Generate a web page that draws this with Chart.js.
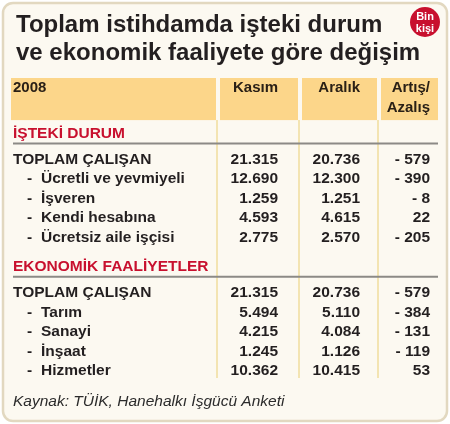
<!DOCTYPE html>
<html>
<head>
<meta charset="utf-8">
<script src="https://cdn.jsdelivr.net/npm/chart.js@4.4.1/dist/chart.umd.min.js"></script>
<style>
  html, body { margin: 0; padding: 0; background: #fff; }
  #wrap { width: 450px; height: 424px; }
</style>
</head>
<body>
<div id="wrap"><canvas id="tableChart"></canvas></div>
<script>
// Chart data
const titleLines = ['Toplam istihdamda işteki durum', 've ekonomik faaliyete göre değişim'];
const unitLines = ['Bin', 'kişi'];
const yearLabel = '2008';
const columnHeaders = [['Kasım'], ['Aralık'], ['Artış/', 'Azalış']];
const sectionTitles = ['İŞTEKİ DURUM', 'EKONOMİK FAALİYETLER'];

const durumLabels = ['TOPLAM ÇALIŞAN', '- Ücretli ve yevmiyeli', '- İşveren', '- Kendi hesabına', '- Ücretsiz aile işçisi'];
const durumKasim = [21315, 12690, 1259, 4593, 2775];
const durumAralik = [20736, 12300, 1251, 4615, 2570];
const durumFark = [-579, -390, -8, 22, -205];

const faaliyetLabels = ['TOPLAM ÇALIŞAN', '- Tarım', '- Sanayi', '- İnşaat', '- Hizmetler'];
const faaliyetKasim = [21315, 5494, 4215, 1245, 10362];
const faaliyetAralik = [20736, 5110, 4084, 1126, 10415];
const faaliyetFark = [-579, -384, -131, -119, 53];

const sourceNote = 'Kaynak: TÜİK, Hanehalkı İşgücü Anketi';

// Layout (table units: x in px of table width, y in row heights)
const colRight = [267, 349, 419];
const colSeparators = [206, 288, 367];
const labelX = 2, dashX = 16, subLabelX = 30;
const AFTER_SECTION = 1.33, SECTION_GAP = 1.5;

const RED = '#c8102e';
const INK = '#231f20';
const BODY_FONT = 'bold 15.5px "Liberation Sans", Arial, sans-serif';

function formatNum(v) {
  const s = String(Math.abs(v)).replace(/\B(?=(\d{3})+(?!\d))/g, '.');
  return v < 0 ? '- ' + s : s;
}

// build row positions
const sectionData = [
  { labels: durumLabels, kasim: durumKasim, aralik: durumAralik, fark: durumFark },
  { labels: faaliyetLabels, kasim: faaliyetKasim, aralik: faaliyetAralik, fark: faaliyetFark }
];
const sectionRows = [];
const dataRows = [];
let pos = 0;
sectionData.forEach((sec, si) => {
  if (si > 0) pos += SECTION_GAP - 1;
  sectionRows.push({ y: pos, text: sectionTitles[si] });
  pos += AFTER_SECTION;
  sec.labels.forEach((lab, i) => {
    dataRows.push({ y: pos, label: lab, vals: [sec.kasim[i], sec.aralik[i], sec.fark[i]] });
    pos += 1;
  });
});

const datasets = [
  {
    label: 'sections',
    data: sectionRows.map(r => ({ x: labelX, y: r.y })),
    texts: sectionRows.map(r => r.text),
    kind: 'section'
  },
  {
    label: 'labels',
    data: dataRows.map(r => ({ x: labelX, y: r.y })),
    texts: dataRows.map(r => r.label),
    kind: 'label'
  }
];
columnHeaders.forEach((h, ci) => {
  datasets.push({
    label: h.join(' '),
    data: dataRows.map(r => ({ x: colRight[ci], y: r.y })),
    texts: dataRows.map(r => formatNum(r.vals[ci])),
    kind: 'number'
  });
});
datasets.forEach(d => { d.pointRadius = 0; d.pointHoverRadius = 0; });

const tablePlugin = {
  id: 'tableCells',
  beforeDraw(chart) {
    const ctx = chart.ctx;
    const xs = chart.scales.x, ys = chart.scales.y;
    const area = chart.chartArea;
    ctx.save();

    // card background
    ctx.beginPath();
    ctx.roundRect(3, 3, 444, 418, 10);
    ctx.fillStyle = '#fcf9f1';
    ctx.fill();
    ctx.lineWidth = 2.5;
    ctx.strokeStyle = '#e2d8c0';
    ctx.stroke();

    // title
    ctx.fillStyle = INK;
    ctx.font = 'bold 24px "Liberation Sans", Arial, sans-serif';
    ctx.textAlign = 'left';
    ctx.textBaseline = 'alphabetic';
    ctx.fillText(titleLines[0], 16, 32);
    ctx.fillText(titleLines[1], 16, 60);

    // unit badge
    ctx.beginPath();
    ctx.arc(425, 22, 15, 0, Math.PI * 2);
    ctx.fillStyle = RED;
    ctx.fill();
    ctx.fillStyle = '#fff';
    ctx.font = 'bold 11px "Liberation Sans", Arial, sans-serif';
    ctx.textAlign = 'center';
    ctx.fillText(unitLines[0], 425, 20);
    ctx.fillText(unitLines[1], 425, 32);

    // header band
    const bandTop = area.top;
    const bandBottom = ys.getPixelForValue(-0.92);
    const edges = [0].concat(colSeparators, [xs.max]);
    ctx.fillStyle = '#fcd68a';
    for (let i = 0; i < edges.length - 1; i++) {
      const l = xs.getPixelForValue(edges[i]) + (i === 0 ? 0 : 3);
      const r = xs.getPixelForValue(edges[i + 1]) - (i === edges.length - 2 ? 0 : 1);
      ctx.fillRect(l, bandTop, r - l, bandBottom - bandTop);
    }

    // column separators
    ctx.strokeStyle = '#f1dc9c';
    ctx.lineWidth = 1.5;
    colSeparators.forEach(s => {
      const x = xs.getPixelForValue(s);
      ctx.beginPath();
      ctx.moveTo(x, bandBottom);
      ctx.lineTo(x, area.bottom);
      ctx.stroke();
    });

    // header text
    ctx.fillStyle = '#2a2016';
    ctx.font = 'bold 15px "Liberation Sans", Arial, sans-serif';
    ctx.textAlign = 'left';
    ctx.fillText(yearLabel, xs.getPixelForValue(labelX), ys.getPixelForValue(-2.36));
    ctx.textAlign = 'right';
    columnHeaders.forEach((lines, ci) => {
      lines.forEach((t, li) => {
        ctx.fillText(t, xs.getPixelForValue(colRight[ci]), ys.getPixelForValue(-2.36 + li * 1.03));
      });
    });

    // section rules
    ctx.strokeStyle = '#8c8a86';
    ctx.lineWidth = 2;
    sectionRows.forEach(r => {
      const y = ys.getPixelForValue(r.y + 0.28);
      ctx.beginPath();
      ctx.moveTo(xs.getPixelForValue(2), y);
      ctx.lineTo(xs.getPixelForValue(xs.max), y);
      ctx.stroke();
    });

    // source note
    ctx.fillStyle = '#2b2b2b';
    ctx.font = 'italic 15.5px "Liberation Sans", Arial, sans-serif';
    ctx.textAlign = 'left';
    const lastY = dataRows[dataRows.length - 1].y;
    ctx.fillText(sourceNote, xs.getPixelForValue(labelX), ys.getPixelForValue(lastY + 1.59));

    ctx.restore();
  },
  afterDatasetsDraw(chart) {
    const ctx = chart.ctx;
    const xs = chart.scales.x;
    ctx.save();
    ctx.textBaseline = 'alphabetic';
    chart.data.datasets.forEach((ds, di) => {
      const meta = chart.getDatasetMeta(di);
      meta.data.forEach((el, i) => {
        const text = ds.texts[i];
        ctx.font = BODY_FONT;
        if (ds.kind === 'section') {
          ctx.fillStyle = RED;
          ctx.textAlign = 'left';
          ctx.fillText(text, el.x, el.y);
        } else if (ds.kind === 'label') {
          ctx.fillStyle = INK;
          ctx.textAlign = 'left';
          if (text.startsWith('- ')) {
            ctx.fillText('-', xs.getPixelForValue(dashX), el.y);
            ctx.fillText(text.slice(2), xs.getPixelForValue(subLabelX), el.y);
          } else {
            ctx.fillText(text, el.x, el.y);
          }
        } else {
          ctx.fillStyle = INK;
          ctx.textAlign = 'right';
          ctx.fillText(text, el.x, el.y);
        }
      });
    });
    ctx.restore();
  }
};

new Chart(document.getElementById('tableChart'), {
  type: 'scatter',
  data: { datasets: datasets },
  options: {
    responsive: true,
    maintainAspectRatio: false,
    animation: false,
    events: [],
    layout: { padding: { left: 11, right: 12, top: 78, bottom: 46 } },
    plugins: { legend: { display: false }, tooltip: { enabled: false } },
    scales: {
      x: { type: 'linear', min: 0, max: 427, display: false },
      y: { type: 'linear', min: -3.08, max: 12.31, reverse: true, display: false }
    }
  },
  plugins: [tablePlugin]
});
</script>
</body>
</html>
